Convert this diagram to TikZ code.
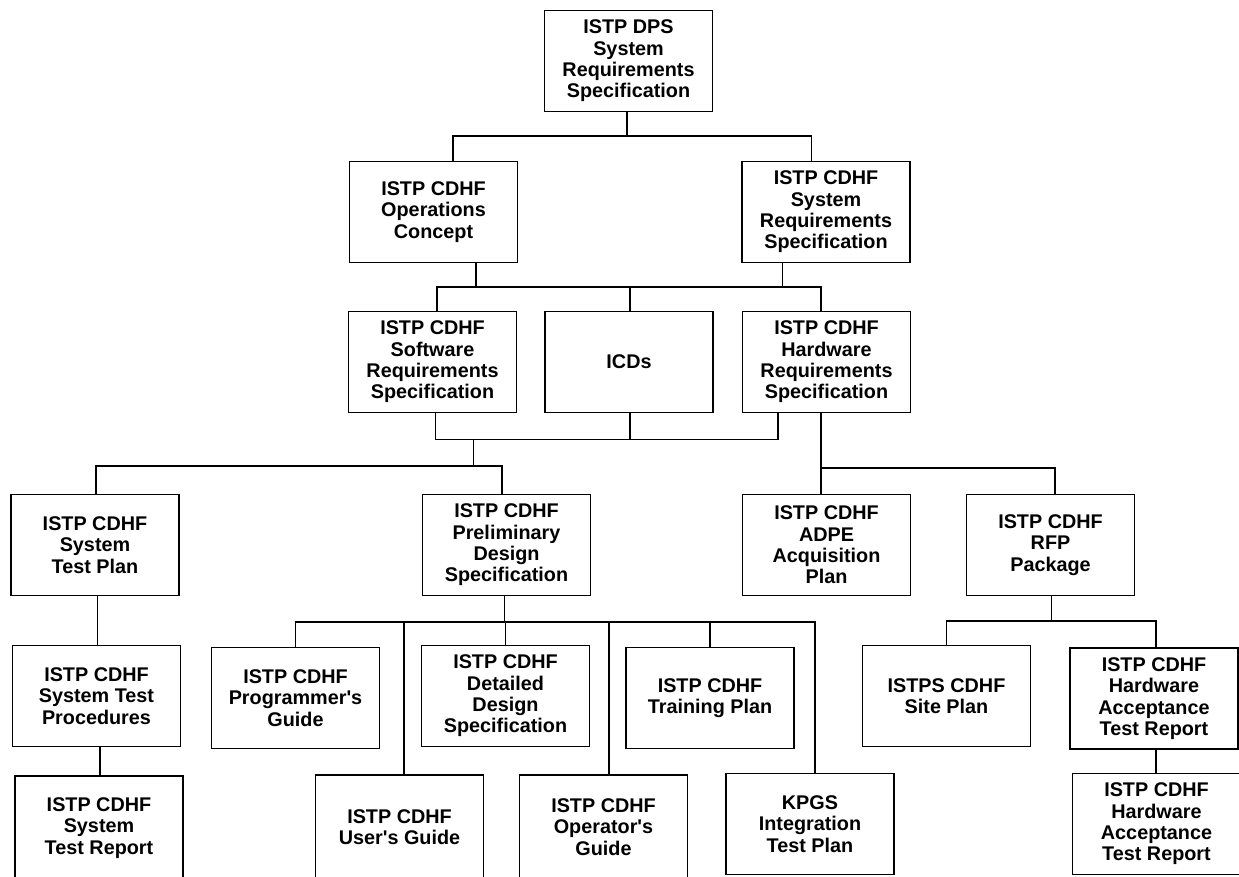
\documentclass[tikz,border=0pt]{standalone}
\usepackage{fontspec}
\setmainfont{Liberation Sans}
\begin{document}
\begin{tikzpicture}[x=1pt,y=1pt,
  doc/.style={draw, line width=1.8pt, minimum width=168pt, minimum height=101pt,
    inner sep=0pt, align=center, font=\fontsize{19.8}{21.3}\selectfont\bfseries},
  cutdoc/.style={doc, minimum height=104pt},
  link/.style={line width=1.8pt}]
\useasboundingbox (0,0) rectangle (1239,-876);
\clip (0,0) rectangle (1239,-876);
\fill[white] (0,0) rectangle (1239,-876);
% level 0-1
\node[doc] (top) at (628.5,-61) {ISTP DPS\\System\\Requirements\\Specification};
\node[doc] (ops) at (433.5,-212) {ISTP CDHF\\Operations\\Concept};
\node[doc] (sysreq) at (826,-212) {ISTP CDHF\\System\\Requirements\\Specification};
% level 2
\node[doc] (sw) at (432.5,-362) {ISTP CDHF\\Software\\Requirements\\Specification};
\node[doc] (icds) at (629,-362) {ICDs};
\node[doc] (hw) at (826.5,-362) {ISTP CDHF\\Hardware\\Requirements\\Specification};
% level 3
\node[doc] (stp) at (95,-545) {ISTP CDHF\\System\\Test Plan};
\node[doc] (pds) at (506.5,-545) {ISTP CDHF\\Preliminary\\Design\\Specification};
\node[doc] (adpe) at (826.5,-545) {ISTP CDHF\\ADPE\\Acquisition\\Plan};
\node[doc] (rfp) at (1050.5,-545) {ISTP CDHF\\RFP\\Package};
% level 4
\node[doc] (stproc) at (96.5,-696) {ISTP CDHF\\System Test\\Procedures};
\node[doc] (progg) at (295.5,-698) {ISTP CDHF\\Programmer\textquotesingle s\\Guide};
\node[doc] (dds) at (505.5,-696) {ISTP CDHF\\Detailed\\Design\\Specification};
\node[doc] (train) at (710,-698) {ISTP CDHF\\Training Plan};
\node[doc] (site) at (946.5,-696) {ISTPS CDHF\\Site Plan};
\node[doc] (hwacc1) at (1154,-698.5) {ISTP CDHF\\Hardware\\Acceptance\\Test Report};
% level 5
\node[cutdoc] (str) at (99,-828) {ISTP CDHF\\System\\Test Report};
\node[cutdoc] (user) at (399.5,-827) {ISTP CDHF\\User\textquotesingle s Guide};
\node[cutdoc] (oper) at (603.5,-827) {ISTP CDHF\\Operator\textquotesingle s\\Guide};
\node[doc] (kpgs) at (810,-824) {KPGS\\Integration\\Test Plan};
\node[doc] (hwacc2) at (1156.5,-824) {ISTP CDHF\\Hardware\\Acceptance\\Test Report};
% connectors
\draw[link] ([xshift=-1.5pt]top.south) -- ++(0,-24);
\draw[link] ([xshift=19.5pt]ops.north) -- ++(0,25) -| ([xshift=-14.5pt]sysreq.north);
\draw[link] ([xshift=42.5pt]ops.south) -- ++(0,-24);
\draw[link] ([xshift=-43.5pt]sysreq.south) -- ++(0,-24);
\draw[link] ([xshift=4.5pt]sw.north) -- ++(0,24) -| ([xshift=-5.5pt]hw.north);
\draw[link] ([xshift=1pt]icds.north) -- ++(0,24);
\draw[link] ([xshift=3pt]sw.south) -- ++(0,-26) -| ([xshift=-48.5pt]hw.south);
\draw[link] ([xshift=1pt]icds.south) -- ++(0,-26);
\draw[link] ([xshift=41pt]sw.south) ++(0,-26) -- ++(0,-27);
\draw[link] ([xshift=1pt]stp.north) -- ++(0,28) -| ([xshift=-4.5pt]pds.north);
\draw[link] ([xshift=-5.5pt]hw.south) -- ([xshift=-5.5pt]adpe.north);
\draw[link] ([xshift=-5.5pt]adpe.north) ++(0,26) -| ([xshift=4.5pt]rfp.north);
\draw[link] ([xshift=2.5pt]stp.south) -- ([xshift=1pt]stproc.north);
\draw[link] ([xshift=3.5pt]stproc.south) -- ([xshift=1pt]str.north);
\draw[link] ([xshift=-2pt]pds.south) -- ++(0,-26);
\draw[link] (progg.north) -- ++(0,25) -| ([xshift=5pt]kpgs.north);
\draw[link] ([xshift=4.5pt]user.north) -- ++(0,153);
\draw[link] (dds.north) -- ++(0,23);
\draw[link] ([xshift=5.5pt]oper.north) -- ++(0,153);
\draw[link] (train.north) -- ++(0,25);
\draw[link] ([xshift=1pt]rfp.south) -- ++(0,-25.5);
\draw[link] (site.north) -- ++(0,23.5) -| ([xshift=2pt]hwacc1.north);
\draw[link] ([xshift=2pt]hwacc1.south) -- ([xshift=-0.5pt]hwacc2.north);
\end{tikzpicture}
\end{document}
